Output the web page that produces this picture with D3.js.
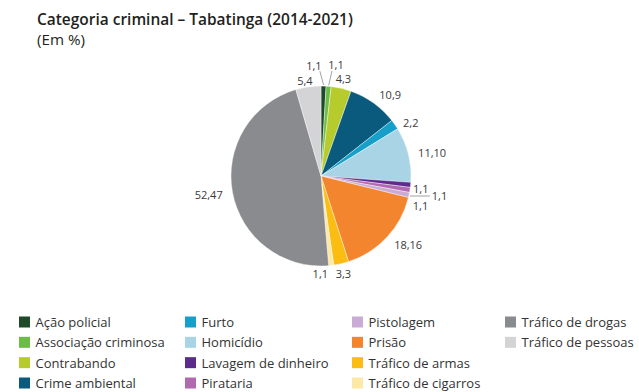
<!DOCTYPE html>
<html>
<head>
<meta charset="utf-8">
<script src="https://cdn.jsdelivr.net/npm/d3@7"></script>
<style>
  html, body { margin: 0; padding: 0; background: #fff; }
  svg { display: block; }
  text { font-family: "Open Sans", "Noto Sans", sans-serif; }
</style>
</head>
<body>
<svg id="chart" width="639" height="392"></svg>
<script>
// ---------- data ----------
const title = "Categoria criminal – Tabatinga (2014-2021)";
const subtitle = "(Em %)";
const categories = [
  "Ação policial", "Associação criminosa", "Contrabando", "Crime ambiental",
  "Furto", "Homicídio", "Lavagem de dinheiro", "Pirataria",
  "Pistolagem", "Prisão", "Tráfico de armas", "Tráfico de cigarros",
  "Tráfico de drogas", "Tráfico de pessoas"
];
const counts   = [1, 1, 4, 10, 2, 11, 1, 1, 1, 18, 3, 1, 52, 5];
const percents = [1, 1, 3, 9, 2, 10, 1, 1, 1, 16, 3, 1, 47, 4];
const colors = [
  "#1f4a2a", "#6cbd45", "#b6cc2c", "#0a5a7e",
  "#169fc8", "#a8d4e6", "#5c2b8d", "#b06ab0",
  "#c9abd5", "#f3852f", "#fbbd12", "#fde8a5",
  "#8a8b8e", "#d4d4d6"
];

// ---------- layout ----------
const svg = d3.select("#chart");
const cx = 321, cy = 176, r = 90, rLabel = 100;
// label nudges for crowded small slices [dx, dy]
const nudge = {0: [-10, -11], 1: [6.5, -11.5], 4: [0, 4], 6: [-7.5, 3], 7: [12, 3.5], 8: [-6, 8], 11: [-12, -2], 13: [-2, 3]};
const leaders = [0, 1, 7];

// title
const t = svg.append("text").attr("x", 37).attr("y", 25)
  .attr("font-size", 15).attr("font-weight", 600).attr("fill", "#231f20").text(title);
const tw = t.node().getComputedTextLength();
t.attr("font-size", 15 * 316 / tw);
const st = svg.append("text").attr("x", 37).attr("y", 45)
  .attr("font-size", 13).attr("fill", "#231f20").text(subtitle);
st.attr("font-size", 13 * 48 / st.node().getComputedTextLength());

// pie
const pie = d3.pie().sort(null).value(d => d.count);
const data = categories.map((c, i) => ({name: c, count: counts[i], pct: percents[i], color: colors[i], i}));
const arcs = pie(data);
const arc = d3.arc().innerRadius(0).outerRadius(r);
const g = svg.append("g").attr("transform", `translate(${cx},${cy})`);
g.selectAll("path").data(arcs).join("path")
  .attr("d", arc)
  .attr("fill", d => d.data.color)
  .attr("stroke", "#fff").attr("stroke-width", 0.4);

// labels
const labG = g.append("g");
arcs.forEach(d => {
  const a = (d.startAngle + d.endAngle) / 2;
  const s = Math.sin(a), c = Math.cos(a);
  let x = rLabel * s, y = -rLabel * c;
  const anchor = s > 0.3 ? "start" : (s < -0.3 ? "end" : "middle");
  const n = nudge[d.data.i] || [0, 0];
  x += n[0]; y += n[1];
  labG.append("text")
    .attr("x", x).attr("y", y)
    .attr("text-anchor", anchor)
    .attr("dominant-baseline", "central")
    .attr("font-size", 11).attr("fill", "#3a3a3a")
    .text(`${d.data.count},${d.data.pct}`);
  if (leaders.includes(d.data.i)) {
    let px, py, lx, ly;
    if (d.data.i === 7) {
      ly = y + 1; lx = x - 2;
      py = ly; px = Math.sqrt((r + 1) * (r + 1) - py * py);
    } else {
      px = (r + 1) * s; py = -(r + 1) * c;
      lx = x + (d.data.i === 0 ? 6 : -4); ly = y + 6;
    }
    labG.append("line").attr("x1", px).attr("y1", py).attr("x2", lx).attr("y2", ly)
      .attr("stroke", "#8a8a8a").attr("stroke-width", 0.8);
  }
});

// legend
const colX = [19, 185, 352, 505];
const rowY = d3.scaleLinear().domain([0, 3]).range([322, 383]);
const leg = svg.append("g");
data.forEach(d => {
  const col = Math.floor(d.i / 4), row = d.i % 4;
  const x = colX[col], y = rowY(row);
  leg.append("rect").attr("x", x).attr("y", y - 5.5).attr("width", 11).attr("height", 11).attr("fill", d.color);
  leg.append("text").attr("x", x + 16.5).attr("y", y).attr("dominant-baseline", "central")
    .attr("font-size", 13).attr("fill", "#333").text(d.name);
});
</script>
</body>
</html>
